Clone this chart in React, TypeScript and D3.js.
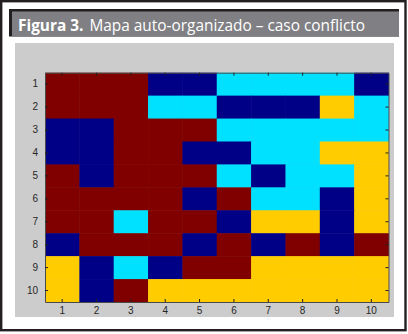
import React, { useEffect, useRef } from 'react';
import * as d3 from 'd3';

// SOM grid: rows 1..10 (top to bottom), columns 1..10
const rowLabels = [1, 2, 3, 4, 5, 6, 7, 8, 9, 10];
const colLabels = [1, 2, 3, 4, 5, 6, 7, 8, 9, 10];

// cluster id per cell: 0 = azul, 1 = cian, 2 = amarillo, 3 = rojo oscuro
const clusterRows = [
  [3, 3, 3, 0, 0, 1, 1, 1, 1, 0],
  [3, 3, 3, 1, 1, 0, 0, 0, 2, 1],
  [0, 0, 3, 3, 3, 1, 1, 1, 1, 1],
  [0, 0, 3, 3, 0, 0, 1, 1, 2, 2],
  [3, 0, 3, 3, 3, 1, 0, 1, 1, 2],
  [3, 3, 3, 3, 0, 3, 1, 1, 0, 2],
  [3, 3, 1, 3, 3, 0, 2, 2, 0, 2],
  [0, 3, 3, 3, 0, 3, 0, 3, 0, 3],
  [2, 0, 1, 0, 3, 3, 2, 2, 2, 2],
  [2, 0, 3, 2, 2, 2, 2, 2, 2, 2],
];
const clusterIds = [0, 1, 2, 3];
const clusterColors = ['#000087', '#00e0ff', '#ffcc00', '#800000'];

const titleBold = 'Figura 3.';
const titleText = 'Mapa auto-organizado – caso conflicto';

export default function App() {
  const ref = useRef<SVGSVGElement>(null);

  useEffect(() => {
    const svg = d3.select(ref.current);
    svg.selectAll('*').remove();

    // frame
    svg.append('rect')
      .attr('x', 1.2).attr('y', 1.2).attr('width', 404.3).attr('height', 329)
      .attr('fill', '#fff').attr('stroke', '#231f20').attr('stroke-width', 2.4);

    // title bar
    svg.append('rect')
      .attr('x', 9).attr('y', 9).attr('width', 390).attr('height', 27.5)
      .attr('fill', '#231f20');
    svg.append('rect')
      .attr('x', 12).attr('y', 11.5).attr('width', 387).attr('height', 25)
      .attr('fill', '#808084');
    const t = svg.append('text')
      .attr('x', 18).attr('y', 30.5)
      .attr('fill', '#fff')
      .style('font-family', '"Open Sans", "Noto Sans", sans-serif')
      .style('font-size', '15.4px');
    t.append('tspan').attr('font-weight', 'bold').text(titleBold);
    t.append('tspan').attr('dx', 6).text(titleText);

    // figure background
    svg.append('rect')
      .attr('x', 15).attr('y', 43).attr('width', 379).attr('height', 274)
      .attr('fill', '#cccccc');

    const left = 45, right = 388.5, top = 72.7, bottom = 302;

    const x = d3.scaleBand<number>().domain(colLabels).range([left, right]);
    const y = d3.scaleBand<number>().domain(rowLabels).range([top, bottom]);
    const color = d3.scaleOrdinal<number, string>().domain(clusterIds).range(clusterColors);

    const cells = clusterRows.flatMap((row, i) =>
      row.map((c, j) => ({ r: rowLabels[i], col: colLabels[j], c }))
    );

    svg.append('g').selectAll('rect')
      .data(cells)
      .join('rect')
      .attr('x', d => x(d.col)!)
      .attr('y', d => y(d.r)!)
      .attr('width', x.bandwidth() + 0.5)
      .attr('height', y.bandwidth() + 0.5)
      .attr('fill', d => color(d.c));

    const font = 'Arial, "Liberation Sans", sans-serif';

    // axes (ticks inside, MATLAB style)
    const gl = svg.append('g')
      .attr('transform', `translate(${left},0)`)
      .call(d3.axisLeft(y).tickSize(-3).tickSizeOuter(0).tickPadding(7));
    const gb = svg.append('g')
      .attr('transform', `translate(0,${bottom})`)
      .call(d3.axisBottom(x).tickSize(-3).tickSizeOuter(0).tickPadding(5));
    const gt = svg.append('g')
      .attr('transform', `translate(0,${top})`)
      .call(d3.axisTop(x).tickSize(-3).tickSizeOuter(0).tickFormat(() => ''));
    const gr = svg.append('g')
      .attr('transform', `translate(${right},0)`)
      .call(d3.axisRight(y).tickSize(-3).tickSizeOuter(0).tickFormat(() => ''));

    [gl, gb, gt, gr].forEach(g => {
      g.select('.domain').attr('stroke', '#4a4a4a').attr('stroke-width', 1);
      g.selectAll('.tick line').attr('stroke', '#222');
      g.selectAll('.tick text')
        .attr('fill', '#262626')
        .style('font-family', font)
        .style('font-size', '10px');
    });
  }, []);

  return (
    <div style={{ position: 'absolute', left: 0, top: 0 }}>
      <svg ref={ref} width={408} height={334} style={{ display: 'block' }} />
    </div>
  );
}
